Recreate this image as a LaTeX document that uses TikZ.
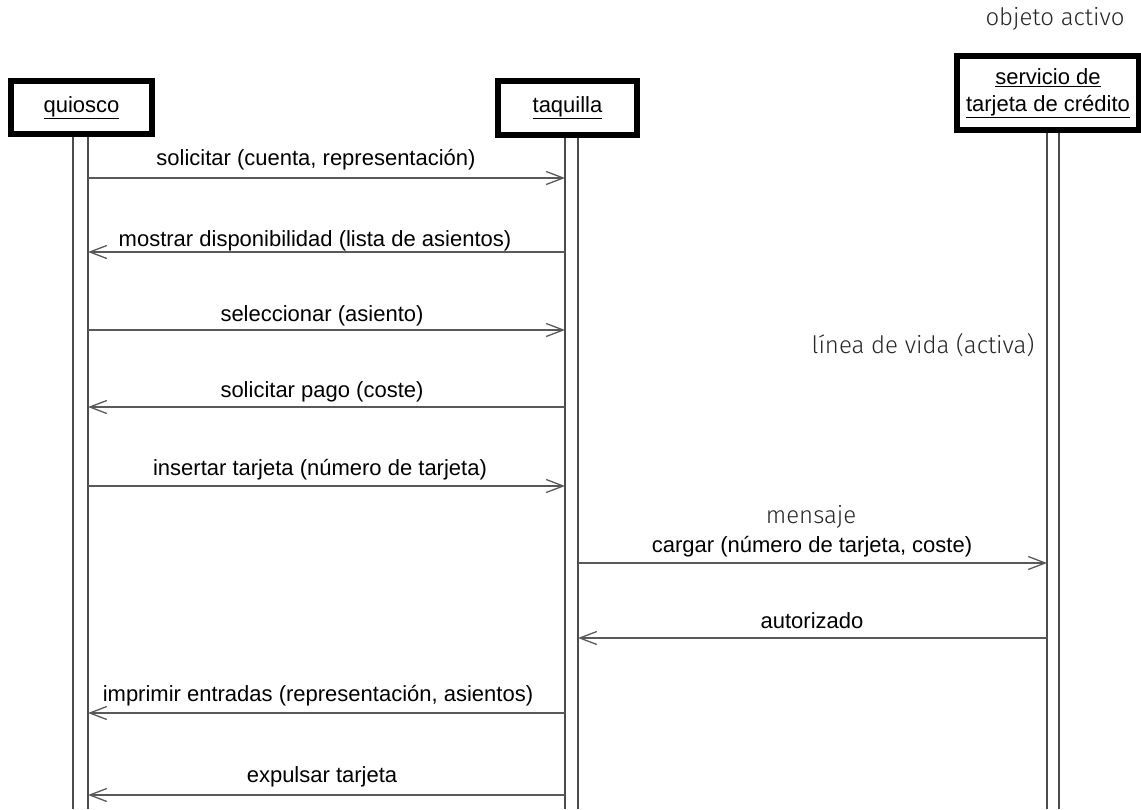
\documentclass[tikz,border=0pt]{standalone}
\usepackage{fontspec}
\setmainfont{Liberation Sans}
\newfontfamily\annfont{Fira Sans Light}
\usetikzlibrary{arrows.meta}
\begin{document}
\begin{tikzpicture}[x=1pt,y=-1pt,
  objbox/.style={draw=black, line width=6pt, inner sep=0pt, align=center,
    font=\fontsize{22}{27}\selectfont},
  life/.style={draw=black!70, line width=1.6pt},
  msg/.style={draw=black!65, line width=1.3pt},
  rarr/.style={msg, -{Straight Barb[length=17pt,width=13pt,line width=1.3pt]}},
  lbl/.style={anchor=base, inner sep=0pt, font=\fontsize{22}{26}\selectfont},
  ann/.style={anchor=base, inner sep=0pt, font=\annfont\fontsize{24}{28}\selectfont, text=black!85}]
\useasboundingbox (0,0) rectangle (1141,809);

% objects
\node[objbox, minimum width=141pt, minimum height=53pt] (quiosco) at (81.5,107.5) {\underline{quiosco}};
\node[objbox, minimum width=139pt, minimum height=54pt] (taquilla) at (567.5,108) {\underline{taquilla}};
\node[objbox, minimum width=182pt, minimum height=74pt] (servicio) at (1048,93) {\underline{servicio de}\\\underline{tarjeta de crédito}};

% lifeline bottoms
\coordinate (qa) at (73,809);
\coordinate (qb) at (88,809);
\coordinate (ta) at (565,809);
\coordinate (tb) at (578,809);
\coordinate (sa) at (1047,809);
\coordinate (sb) at (1059,809);
\draw[life] (quiosco.south -| qa) -- (qa);
\draw[life] (quiosco.south -| qb) -- (qb);
\draw[life] (taquilla.south -| ta) -- (ta);
\draw[life] (taquilla.south -| tb) -- (tb);
\draw[life] (servicio.south -| sa) -- (sa);
\draw[life] (servicio.south -| sb) -- (sb);

% message end points
\foreach \n/\y in {1/178,2/252,3/330,4/407,5/486,6/563,7/638,8/713,9/795}{
  \coordinate (q\n) at (88,\y);
  \coordinate (t\n) at (565,\y);
  \coordinate (u\n) at (578,\y);
  \coordinate (s\n) at (1047,\y);
}

\draw[rarr] (q1) -- (t1);
\draw[rarr] (t2) -- (q2);
\draw[rarr] (q3) -- (t3);
\draw[rarr] (t4) -- (q4);
\draw[rarr] (q5) -- (t5);
\draw[rarr] (u6) -- (s6);
\draw[rarr] (s7) -- (u7);
\draw[rarr] (t8) -- (q8);
\draw[rarr] (t9) -- (q9);

% labels
\node[lbl] (l1) at (316,165) {solicitar (cuenta, representación)};
\node[lbl] (l2) at (315,246) {mostrar disponibilidad (lista de asientos)};
\node[lbl] (l3) at (322,321) {seleccionar (asiento)};
\node[lbl] (l4) at (322,397) {solicitar pago (coste)};
\node[lbl] (l5) at (320,475) {insertar tarjeta (número de tarjeta)};
\node[lbl] (l6) at (812,552) {cargar (número de tarjeta, coste)};
\node[lbl] (l7) at (812,628) {autorizado};
\node[lbl] (l8) at (318,701) {imprimir entradas (representación, asientos)};
\node[lbl] (l9) at (322,782) {expulsar tarjeta};

% annotations
\node[ann] (aobj) at (1055,25) {objeto activo};
\node[ann] (alife) at (923,353) {línea de vida (activa)};
\node[ann] (amsg) at (811,523) {mensaje};
\end{tikzpicture}
\end{document}
